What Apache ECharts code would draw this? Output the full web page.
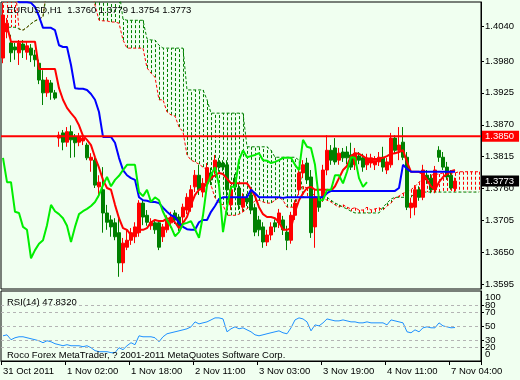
<!DOCTYPE html>
<html><head><meta charset="utf-8">
<script src="https://cdn.jsdelivr.net/npm/echarts@6/dist/echarts.min.js"></script>
<style>html,body{margin:0;padding:0;background:#f0fff0}#c{width:520px;height:380px}</style>
</head><body><div id="c"></div>
<script>
const headerText = 'EURUSD,H1  1.3760 1.3779 1.3754 1.3773';
const rsiHeader = 'RSI(14) 47.8320';
const copyrightText = 'Roco Forex MetaTrader, ? 2001-2011 MetaQuotes Software Corp.';
const timeTickIdx = [0,16,32,48,64,80,96,112];
const timeLabels = ['31 Oct 2011','1 Nov 02:00','1 Nov 18:00','2 Nov 11:00','3 Nov 03:00','3 Nov 19:00','4 Nov 11:00','7 Nov 04:00'];
const priceTicks = [1.3595,1.3650,1.3705,1.3760,1.3815,1.3870,1.3925,1.3980,1.4040];
const priceMin = 1.35870, priceMax = 1.40815;
const rsiTicksA = [30,50,70];
const rsiTicksB = [20,80];
const rsiTicksEdge = [0,100];
const rsiLevels = [20,30,50,70,80];
const hLineLevel = 1.3850;
const lastClose = 1.3773;
const barCount = 120;

const opens = [
1.3985,1.4030,1.4011,1.4004,1.3994,1.4009,1.3995,1.4002,1.3990,1.3976,
1.3947,1.3925,1.3942,1.3925,1.3847,1.3856,1.3840,1.3858,1.3849,1.3840,
1.3842,1.3835,1.3809,1.3809,1.3763,1.3758,1.3718,1.3706,1.3701,1.3684,
1.3632,1.3659,1.3671,1.3677,1.3684,1.3735,1.3714,1.3696,1.3701,1.3701,
1.3677,1.3689,1.3701,1.3718,1.3711,1.3711,1.3723,1.3728,1.3763,1.3783,
1.3754,1.3769,1.3787,1.3792,1.3806,1.3804,1.3801,1.3732,1.3778,1.3761,
1.3728,1.3744,1.3749,1.3727,1.3706,1.3694,1.3668,1.3680,1.3701,1.3701,
1.3706,1.3685,1.3671,1.3714,1.3758,1.3787,1.3804,1.3780,1.3694,1.3745,
1.3745,1.3792,1.3826,1.3830,1.3809,1.3823,1.3823,1.3818,1.3801,1.3816,
1.3813,1.3801,1.3804,1.3801,1.3806,1.3814,1.3792,1.3801,1.3847,1.3826,
1.3840,1.3814,1.3727,1.3728,1.3758,1.3745,1.3783,1.3778,1.3758,1.3826,
1.3814,1.3797,1.3783,1.3760];
const closes = [
1.4059,1.4045,1.3994,1.3999,1.4011,1.3999,1.4006,1.3990,1.3982,1.3947,
1.3925,1.3947,1.3926,1.3916,1.3852,1.3840,1.3858,1.3844,1.3839,1.3849,
1.3847,1.3813,1.3814,1.3766,1.3771,1.3718,1.3702,1.3694,1.3677,1.3632,
1.3666,1.3671,1.3684,1.3694,1.3735,1.3711,1.3702,1.3702,1.3689,1.3659,
1.3694,1.3706,1.3711,1.3706,1.3694,1.3728,1.3745,1.3758,1.3783,1.3758,
1.3769,1.3796,1.3775,1.3809,1.3797,1.3797,1.3758,1.3758,1.3763,1.3732,
1.3744,1.3737,1.3723,1.3685,1.3689,1.3668,1.3680,1.3694,1.3694,1.3718,
1.3689,1.3671,1.3714,1.3735,1.3787,1.3801,1.3775,1.3684,1.3745,1.3728,
1.3792,1.3826,1.3809,1.3806,1.3821,1.3813,1.3813,1.3797,1.3821,1.3809,
1.3797,1.3813,1.3813,1.3809,1.3814,1.3797,1.3806,1.3847,1.3826,1.3835,
1.3814,1.3728,1.3735,1.3758,1.3745,1.3792,1.3775,1.3758,1.3792,1.3814,
1.3797,1.3780,1.3761,1.3773];
const lows = [
1.3976,1.4019,1.3978,1.3982,1.3973,1.3985,1.3982,1.3978,1.3970,1.3940,
1.3904,1.3918,1.3913,1.3913,1.3832,1.3826,1.3832,1.3813,1.3814,1.3833,
1.3835,1.3809,1.3789,1.3761,1.3745,1.3684,1.3689,1.3677,1.3671,1.3608,
1.3616,1.3654,1.3663,1.3666,1.3677,1.3697,1.3696,1.3689,1.3682,1.3654,
1.3668,1.3684,1.3692,1.3699,1.3687,1.3701,1.3716,1.3720,1.3754,1.3749,
1.3745,1.3764,1.3766,1.3785,1.3789,1.3790,1.3732,1.3723,1.3754,1.3723,
1.3720,1.3730,1.3716,1.3678,1.3678,1.3658,1.3661,1.3671,1.3685,1.3692,
1.3680,1.3654,1.3665,1.3706,1.3749,1.3778,1.3768,1.3675,1.3658,1.3720,
1.3737,1.3783,1.3801,1.3801,1.3801,1.3806,1.3802,1.3792,1.3792,1.3802,
1.3789,1.3792,1.3796,1.3792,1.3799,1.3789,1.3785,1.3796,1.3820,1.3809,
1.3809,1.3723,1.3709,1.3714,1.3739,1.3740,1.3768,1.3752,1.3752,1.3806,
1.3792,1.3775,1.3758,1.3754];
const highs = [
1.4080,1.4054,1.4025,1.4011,1.4016,1.4016,1.4013,1.4009,1.3999,1.3982,
1.3964,1.3952,1.3947,1.3930,1.3858,1.3861,1.3866,1.3869,1.3854,1.3856,
1.3852,1.3839,1.3821,1.3814,1.3783,1.3797,1.3732,1.3714,1.3709,1.3711,
1.3675,1.3689,1.3692,1.3702,1.3740,1.3740,1.3723,1.3709,1.3706,1.3706,
1.3699,1.3714,1.3720,1.3723,1.3716,1.3734,1.3752,1.3766,1.3792,1.3801,
1.3778,1.3804,1.3796,1.3818,1.3813,1.3809,1.3809,1.3766,1.3785,1.3768,
1.3752,1.3751,1.3758,1.3734,1.3713,1.3702,1.3689,1.3702,1.3707,1.3725,
1.3713,1.3696,1.3720,1.3740,1.3796,1.3809,1.3813,1.3792,1.3758,1.3754,
1.3801,1.3852,1.3835,1.3847,1.3830,1.3830,1.3833,1.3839,1.3830,1.3823,
1.3820,1.3820,1.3820,1.3816,1.3823,1.3832,1.3813,1.3856,1.3852,1.3866,
1.3866,1.3823,1.3744,1.3766,1.3764,1.3801,1.3792,1.3785,1.3799,1.3833,
1.3823,1.3806,1.3792,1.3779];

const tenkan = [
1.4040,1.4040,1.4013,1.4013,1.4013,1.4013,1.4013,1.4013,1.4013,1.3966,
1.3966,1.3966,1.3966,1.3966,1.3933,1.3913,1.3899,1.3890,1.3882,1.3869,
1.3851,1.3844,1.3835,1.3814,1.3796,1.3775,1.3761,1.3758,1.3732,1.3709,
1.3692,1.3689,1.3680,1.3680,1.3689,1.3689,1.3692,1.3702,1.3706,1.3704,
1.3704,1.3709,1.3707,1.3702,1.3692,1.3701,1.3711,1.3732,1.3749,1.3758,
1.3761,1.3769,1.3778,1.3783,1.3787,1.3785,1.3777,1.3769,1.3769,1.3769,
1.3769,1.3769,1.3759,1.3747,1.3728,1.3716,1.3711,1.3711,1.3709,1.3702,
1.3689,1.3689,1.3692,1.3720,1.3740,1.3752,1.3761,1.3763,1.3758,1.3758,
1.3758,1.3758,1.3756,1.3764,1.3778,1.3792,1.3799,1.3816,1.3821,1.3820,
1.3816,1.3811,1.3811,1.3811,1.3811,1.3813,1.3816,1.3820,1.3821,1.3823,
1.3826,1.3806,1.3789,1.3789,1.3789,1.3785,1.3775,1.3764,1.3758,1.3771,
1.3780,1.3785,1.3790,1.3792];
const kijun = [
1.4095,1.4095,1.4095,1.4095,1.4081,1.4081,1.4081,1.4080,1.4073,1.4057,
1.4037,1.4037,1.4037,1.4033,1.4007,1.4004,1.4004,1.3973,1.3933,1.3932,
1.3932,1.3930,1.3923,1.3913,1.3892,1.3849,1.3849,1.3849,1.3839,1.3813,
1.3792,1.3783,1.3778,1.3775,1.3745,1.3740,1.3739,1.3737,1.3737,1.3735,
1.3727,1.3720,1.3714,1.3711,1.3701,1.3694,1.3690,1.3689,1.3689,1.3702,
1.3706,1.3706,1.3720,1.3730,1.3742,1.3745,1.3745,1.3745,1.3745,1.3745,
1.3745,1.3745,1.3758,1.3752,1.3745,1.3745,1.3745,1.3745,1.3745,1.3745,
1.3744,1.3745,1.3745,1.3745,1.3745,1.3745,1.3745,1.3745,1.3745,1.3745,
1.3745,1.3752,1.3756,1.3756,1.3756,1.3756,1.3756,1.3756,1.3756,1.3756,
1.3756,1.3756,1.3756,1.3756,1.3756,1.3756,1.3756,1.3756,1.3756,1.3761,
1.3801,1.3794,1.3789,1.3789,1.3789,1.3789,1.3789,1.3789,1.3789,1.3789,
1.3789,1.3789,1.3789,1.3789];
const chikou = [
1.3813,1.3771,1.3771,1.3720,1.3718,1.3694,1.3689,1.3640,1.3654,1.3665,
1.3671,1.3697,1.3732,1.3721,1.3716,1.3709,1.3696,1.3668,1.3694,1.3716,
1.3721,1.3725,1.3730,1.3737,1.3749,1.3766,1.3780,1.3764,1.3775,1.3782,
1.3792,1.3801,1.3801,1.3801,1.3754,1.3747,1.3758,1.3737,1.3745,1.3740,
1.3720,1.3706,1.3694,1.3678,1.3685,1.3699,1.3701,1.3704,1.3690,1.3675,
1.3714,1.3766,1.3783,1.3797,1.3766,1.3685,1.3728,1.3763,1.3763,1.3809,
1.3826,1.3814,1.3816,1.3818,1.3821,1.3809,1.3808,1.3804,1.3806,1.3809,
1.3813,1.3813,1.3813,1.3801,1.3792,1.3844,1.3832,1.3830,1.3801,1.3740,
1.3740,1.3758,1.3758,1.3783,1.3783,1.3769,1.3789,1.3814,1.3813,1.3778,
1.3763,1.3771];
const spanA = [
1.4111,1.4111,1.4111,1.4111,1.4035,1.4033,1.4038,1.4044,1.4049,1.4052,
1.4056,1.4111,1.4111,1.4111,1.4111,1.4111,1.4111,1.4111,1.4111,1.4111,
1.4111,1.4111,1.4111,1.4076,1.4050,1.4049,1.4049,1.4047,1.4047,1.4045,
1.4016,1.4002,1.4002,1.4002,1.4002,1.4002,1.3968,1.3959,1.3952,1.3913,
1.3913,1.3892,1.3887,1.3885,1.3866,1.3858,1.3818,1.3809,1.3806,1.3802,
1.3797,1.3792,1.3766,1.3744,1.3735,1.3732,1.3714,1.3714,1.3714,1.3716,
1.3720,1.3725,1.3732,1.3739,1.3740,1.3737,1.3735,1.3735,1.3740,1.3745,
1.3740,1.3728,1.3728,1.3728,1.3758,1.3764,1.3761,1.3754,1.3747,1.3744,
1.3744,1.3740,1.3737,1.3732,1.3728,1.3732,1.3728,1.3725,1.3727,1.3723,
1.3723,1.3728,1.3723,1.3725,1.3727,1.3723,1.3730,1.3735,1.3744,1.3747,
1.3752,1.3754,1.3758,1.3764,1.3771,1.3778,1.3782,1.3783,1.3785,1.3785,
1.3787,1.3787,1.3787,1.3787,1.3789,1.3789,1.3789,1.3789,1.3789,1.3789];
const spanB = [
1.4038,1.4038,1.4038,1.4038,1.4035,1.4033,1.4038,1.4044,1.4049,1.4052,
1.4056,1.4102,1.4102,1.4102,1.4102,1.4102,1.4102,1.4102,1.4102,1.4102,
1.4102,1.4102,1.4102,1.4102,1.4102,1.4102,1.4102,1.4102,1.4102,1.4102,
1.4052,1.4050,1.4050,1.4050,1.4050,1.4050,1.4018,1.4016,1.4016,1.4007,
1.4002,1.4002,1.4002,1.4002,1.4002,1.4002,1.3930,1.3930,1.3930,1.3930,
1.3930,1.3913,1.3890,1.3890,1.3890,1.3890,1.3890,1.3890,1.3890,1.3890,
1.3890,1.3832,1.3832,1.3832,1.3832,1.3832,1.3832,1.3826,1.3814,1.3814,
1.3814,1.3814,1.3814,1.3814,1.3809,1.3745,1.3745,1.3745,1.3745,1.3745,
1.3745,1.3745,1.3740,1.3735,1.3732,1.3728,1.3725,1.3721,1.3718,1.3718,
1.3718,1.3718,1.3718,1.3718,1.3718,1.3728,1.3735,1.3742,1.3745,1.3745,
1.3745,1.3745,1.3745,1.3754,1.3754,1.3754,1.3754,1.3754,1.3754,1.3754,
1.3754,1.3754,1.3754,1.3754,1.3754,1.3754,1.3754,1.3754,1.3754,1.3754];
const rsi = [
36,37.4,30.4,33.2,34.6,34.6,33.2,31.8,30.4,28.9,
26.1,28.9,27.5,24.7,23.3,21.8,23.3,21.8,21.8,21.8,
20.4,21.8,19,14.8,13.3,13.3,13.3,11.9,11.9,19,
16.2,21.8,26.1,23.3,36,34.6,34.6,34.6,33.2,27.5,
34.6,38.9,40.3,41.7,43.1,44.5,46,48.8,55.9,53,
54.5,55.9,58.7,61.6,61.6,60.1,41.7,46,48.8,46,
47.4,44.5,41.7,37.4,36,37.4,38.9,40.3,41.7,43.1,
40.3,38.9,47.4,58.7,61.6,60.1,55.9,43.1,51.6,50.2,
54.5,60.1,58.7,57.3,57.3,58.7,57.3,55.9,55.9,54.5,
54.5,55.9,54.5,54.5,54.5,54.5,51.6,58.7,57.3,55.9,
54.5,41.7,40.3,44.5,41.7,47.4,48.8,47.4,47.4,54.5,
50.2,48.8,47.4,47.832];

const FONT = 'Liberation Sans, Arial, sans-serif';
const cats = Array.from({length: barCount}, (_, i) => String(i));
const candleData = opens.map((o, i) => [o, closes[i], lows[i], highs[i]]);
const cloudData = spanA.map((a, i) => [i, a, spanB[i]]);
// price levels: [x, value, drawLine(1/0), colourIndex]
const levelData = [[0, hLineLevel, 1, 0], [0, lastClose, 0, 1]];
const levelBg = ['#ff0000', '#000000'];

const labelBase = {fontSize: 9.5, color: '#000', fontFamily: FONT, margin: 4, hideOverlap: false};
const rsiAxis = (vals, extra) => Object.assign({type: 'value', gridIndex: 1, position: 'right', min: 0, max: 100,
  axisLine: {show: false}, axisTick: {show: true, length: 3, customValues: vals, lineStyle: {color: '#000'}},
  axisLabel: Object.assign({show: true, customValues: vals}, labelBase), splitLine: {show: false}}, extra || {});

const chart = echarts.init(document.getElementById('c'), null, {renderer: 'canvas'});
chart.setOption({
  animation: false,
  backgroundColor: '#f0fff0',
  textStyle: {fontFamily: FONT},
  title: [
    {text: headerText, left: 7, top: 5, padding: 0, textStyle: {fontSize: 9.5, fontWeight: 'normal', color: '#000', fontFamily: FONT}},
    {text: rsiHeader, left: 7, top: 297, padding: 0, textStyle: {fontSize: 9.5, fontWeight: 'normal', color: '#000', fontFamily: FONT}},
    {text: copyrightText, left: 7, top: 350, padding: 0, textStyle: {fontSize: 9.5, fontWeight: 'normal', color: '#000', fontFamily: FONT}}
  ],
  grid: [
    {left: 1, top: 2, width: 480, height: 287, show: true, borderColor: '#000', borderWidth: 1, backgroundColor: 'transparent'},
    {left: 1, top: 291, width: 480, height: 70, show: true, borderColor: '#000', borderWidth: 1, backgroundColor: 'transparent'}
  ],
  xAxis: [
    {type: 'category', gridIndex: 0, data: cats, boundaryGap: true,
     axisLine: {show: false}, axisTick: {show: false}, axisLabel: {show: false}, splitLine: {show: false}},
    {type: 'category', gridIndex: 1, data: cats, boundaryGap: true,
     axisLine: {show: true, lineStyle: {color: '#000'}},
     axisTick: {show: true, interval: 15, length: 4, lineStyle: {color: '#000'}},
     axisLabel: {show: true, interval: 15, align: 'left', margin: 5, fontSize: 9.5, color: '#000', fontFamily: FONT,
       formatter: (v, idx) => { const k = timeTickIdx.indexOf(idx); return k >= 0 ? timeLabels[k] : ''; }},
     splitLine: {show: false}}
  ],
  yAxis: [
    {type: 'value', gridIndex: 0, position: 'right', min: priceMin, max: priceMax, scale: true,
     axisLine: {show: true, lineStyle: {color: '#000'}},
     axisTick: {show: true, length: 3, customValues: priceTicks, lineStyle: {color: '#000'}},
     axisLabel: Object.assign({show: true, customValues: priceTicks, formatter: v => v.toFixed(4)}, labelBase),
     splitLine: {show: false}},
    rsiAxis(rsiTicksA, {axisLine: {show: true, lineStyle: {color: '#000'}}}),
    rsiAxis(rsiTicksB),
    {type: 'value', gridIndex: 1, position: 'right', min: -0.5, max: 100.5,
     axisLine: {show: false}, axisTick: {show: false}, splitLine: {show: false},
     axisLabel: Object.assign({show: true, customValues: rsiTicksEdge, showMinLabel: true, showMaxLabel: true,
       formatter: v => v >= 100 ? '{top|' + v + '}' : '{bot|' + v + '}',
       rich: {top: {fontSize: 9.5, padding: [12, 0, 0, 0], fontFamily: FONT, color: '#000'},
              bot: {fontSize: 9.5, padding: [0, 0, 12, 0], fontFamily: FONT, color: '#000'}}}, labelBase)}
  ],
  series: [
    {name: 'Cloud', type: 'custom', xAxisIndex: 0, yAxisIndex: 0, clip: true, z: 1, silent: true,
     data: cloudData, encode: {x: 0, y: [1, 2]},
     renderItem: (params, api) => {
       const i = api.value(0), a = api.value(1), b = api.value(2);
       const pa = api.coord([i, a]), pb = api.coord([i, b]);
       const x = Math.round(pa[0]) + 0.5;
       return {type: 'line', shape: {x1: x, y1: pa[1], x2: x, y2: pb[1]},
         style: {stroke: a > b ? '#ff0000' : '#008000', lineWidth: 1, lineDash: [3, 2]}};
     }},
    {name: 'SpanA', type: 'line', data: spanA, xAxisIndex: 0, yAxisIndex: 0, showSymbol: false, symbol: 'none', z: 2, silent: true,
     lineStyle: {color: '#ff0000', width: 1, type: [3, 2]}},
    {name: 'SpanB', type: 'line', data: spanB, xAxisIndex: 0, yAxisIndex: 0, showSymbol: false, symbol: 'none', z: 2, silent: true,
     lineStyle: {color: '#008000', width: 1, type: [3, 2]}},
    {name: 'EURUSD', type: 'candlestick', data: candleData, xAxisIndex: 0, yAxisIndex: 0, barWidth: 3, z: 3, clip: true,
     itemStyle: {color: '#ff0000', color0: '#008000', borderColor: '#ff0000', borderColor0: '#008000', borderWidth: 1}},
    {name: 'Tenkan', type: 'line', data: tenkan, xAxisIndex: 0, yAxisIndex: 0, showSymbol: false, symbol: 'none', z: 4, silent: true,
     lineStyle: {color: '#ff0000', width: 2}},
    {name: 'Kijun', type: 'line', data: kijun, xAxisIndex: 0, yAxisIndex: 0, showSymbol: false, symbol: 'none', z: 4, silent: true,
     lineStyle: {color: '#0000ff', width: 2}},
    {name: 'Chikou', type: 'line', data: chikou, xAxisIndex: 0, yAxisIndex: 0, showSymbol: false, symbol: 'none', z: 4, silent: true,
     lineStyle: {color: '#00ee00', width: 2}},
    {name: 'Levels', type: 'custom', xAxisIndex: 0, yAxisIndex: 0, clip: false, z: 6, silent: true,
     data: levelData, encode: {x: 0, y: 1},
     renderItem: (params, api) => {
       const v = api.value(1), drawLine = api.value(2), ci = api.value(3);
       const cs = params.coordSys;
       const y = api.coord([0, v])[1];
       const children = [];
       if (drawLine) children.push({type: 'line', shape: {x1: cs.x, y1: y, x2: cs.x + cs.width, y2: y},
         style: {stroke: levelBg[ci], lineWidth: 2}});
       children.push({type: 'text', x: cs.x + cs.width + 1, y: y,
         style: {text: v.toFixed(4), fill: '#fff', backgroundColor: levelBg[ci], padding: [1, 5, 0, 3],
           font: '9.5px ' + FONT, align: 'left', verticalAlign: 'middle', lineHeight: 10}});
       return {type: 'group', children};
     }},
    {name: 'RSI', type: 'line', data: rsi, xAxisIndex: 1, yAxisIndex: 1, showSymbol: false, symbol: 'none', z: 4, silent: true,
     lineStyle: {color: '#1e90ff', width: 1},
     markLine: {silent: true, symbol: 'none', animation: false, label: {show: false},
       lineStyle: {color: '#b4b4b4', width: 1, type: [3, 3]},
       data: rsiLevels.map(v => ({yAxis: v}))}}
  ]
});
</script>
</body></html>
